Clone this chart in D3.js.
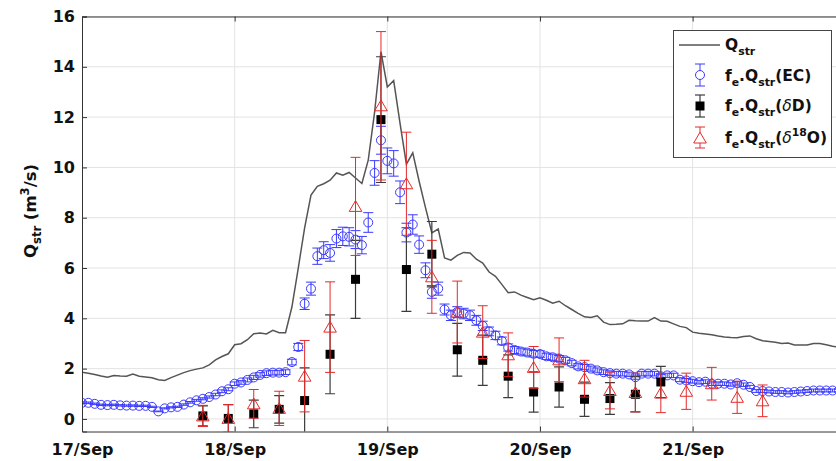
<!doctype html>
<html>
<head>
<script src="https://cdnjs.cloudflare.com/ajax/libs/d3/7.8.5/d3.min.js"></script>
<style>
    body { margin: 0; background: #fff; }
    svg { display: block; font-family: "DejaVu Sans", sans-serif; font-weight: bold; }
</style>
</head>
<body>
<svg width="836" height="461"></svg>
<script>
// day ticks (hours from 17/Sep 00:00)
var dayHours = [0, 24, 48, 72, 96];
var dayLabels = ["17/Sep", "18/Sep", "19/Sep", "20/Sep", "21/Sep"];
var yTicks = [0, 2, 4, 6, 8, 10, 12, 14, 16];

// stream discharge, hourly from 17/Sep 00:00
var qstr = [1.86, 1.82, 1.77, 1.71, 1.66, 1.73, 1.71, 1.70, 1.78, 1.70,
    1.67, 1.64, 1.56, 1.53, 1.64, 1.74, 1.84, 1.92, 1.98, 2.03,
    2.15, 2.35, 2.48, 2.59, 2.95, 2.99, 3.15, 3.39, 3.42, 3.38,
    3.52, 3.43, 3.43, 4.45, 6.0, 7.6, 8.9, 9.25, 9.35, 9.49,
    9.78, 9.69, 9.80, 9.58, 9.36, 10.29, 12.2, 14.6, 13.2, 13.45,
    11.75, 10.13, 10.58, 9.45, 8.4, 7.4, 7.55, 6.4, 6.31, 6.5,
    6.62, 6.6, 6.35, 6.2, 5.84, 5.67, 5.35, 5.02, 5.05, 4.92,
    4.83, 4.74, 4.82, 4.72, 4.60, 4.68, 4.5, 4.35, 4.2, 4.06,
    4.03, 4.10, 3.85, 3.75, 3.76, 3.78, 3.92, 3.90, 3.89, 3.89,
    4.03, 3.89, 3.88, 3.78, 3.68, 3.63, 3.45, 3.41, 3.38, 3.35,
    3.30, 3.26, 3.24, 3.23, 3.28, 3.30, 3.19, 3.11, 3.08, 3.05,
    3.0, 3.02, 2.94, 2.94, 2.94, 3.0, 3.0, 2.95, 2.89, 2.86, 2.85];

// fe.Qstr from EC, hourly
var ecFlow = [0.64, 0.64, 0.60, 0.56, 0.55, 0.56, 0.54, 0.53, 0.53, 0.52,
    0.52, 0.48, 0.30, 0.42, 0.46, 0.48, 0.57, 0.66, 0.74, 0.80,
    0.87, 0.97, 1.10, 1.18, 1.40, 1.45, 1.55, 1.65, 1.75, 1.82,
    1.84, 1.84, 1.86, 2.26, 2.86, 4.58, 5.18, 6.47, 6.71, 6.60,
    7.17, 7.26, 7.24, 7.13, 6.91, 7.81, 9.78, 11.08, 10.26, 10.16,
    9.01, 7.41, 7.73, 6.93, 5.91, 5.05, 5.18, 4.35, 4.12, 4.25,
    4.19, 4.12, 3.92, 3.70, 3.48, 3.32, 3.10, 2.84, 2.74, 2.68,
    2.64, 2.59, 2.58, 2.49, 2.45, 2.40, 2.33, 2.22, 2.09, 2.06,
    2.00, 1.93, 1.86, 1.82, 1.80, 1.80, 1.77, 1.66, 1.80, 1.80,
    1.80, 1.69, 1.73, 1.73, 1.56, 1.53, 1.50, 1.46, 1.48, 1.40,
    1.40, 1.40, 1.37, 1.42, 1.36, 1.27, 1.11, 1.11, 1.09, 1.07,
    1.07, 1.05, 1.07, 1.09, 1.11, 1.13, 1.13, 1.13, 1.13, 1.13];
var ecRelErr = 0.05;

// isotope samples (every 4 h)
var dDHours = [19, 23, 27, 31, 35, 39, 43, 47, 51, 55, 59, 63, 67, 71, 75, 79, 83, 87, 91];
var dDFlow = [0.12, 0.02, 0.2, 0.38, 0.73, 2.57, 5.55, 11.9, 5.94, 6.55, 2.75, 2.33, 1.7, 1.07, 1.27, 0.78, 0.81, 0.98, 1.47];
var dDErr = [0.4, 0.55, 0.55, 0.55, 1.3, 1.57, 1.55, 2.5, 1.66, 1.3, 1.05, 1.0, 0.85, 0.8, 0.8, 0.68, 0.63, 0.7, 0.62];

var d18OHours = [19, 23, 27, 31, 35, 39, 43, 47, 51, 55, 59, 63, 67, 71, 75, 79, 83, 87, 91, 95, 99, 103, 107];
var d18OFlow = [0.12, 0.02, 0.6, 0.42, 1.7, 3.65, 8.45, 12.45, 9.35, 5.65, 4.25, 3.45, 2.55, 2.05, 2.35, 1.6, 1.13, 1.05, 1.03, 1.1, 1.4, 0.86, 0.72];
var d18OErr = [0.42, 0.55, 0.57, 0.68, 1.42, 1.8, 1.95, 2.95, 2.05, 1.45, 1.23, 1.05, 0.87, 0.83, 0.87, 0.73, 0.73, 0.77, 0.78, 0.72, 0.65, 0.64, 0.63];

var blue = "#3a3aff", red = "#e52a2a", darkBar = "#3c3c3c";

var svg = d3.select("svg");
var pLeft = 82, pRight = 845.3, pTop = 16.5, pBottom = 431.5;

var x = d3.scaleLinear().domain([0, 120]).range([pLeft, pRight]);
var y = d3.scaleLinear().domain([-0.5, 16]).range([pBottom, pTop]);

svg.append("defs").append("clipPath").attr("id", "plotclip")
    .append("rect").attr("x", pLeft).attr("y", pTop).attr("width", pRight - pLeft).attr("height", pBottom - pTop);

// grid
var grid = svg.append("g");
grid.selectAll(".gy").data(yTicks).enter().append("line")
    .attr("x1", pLeft).attr("x2", pRight)
    .attr("y1", function (d) { return y(d); }).attr("y2", function (d) { return y(d); })
    .attr("stroke", "#e3e3e3").attr("stroke-width", 1);
grid.selectAll(".gx").data(dayHours.slice(1)).enter().append("line")
    .attr("x1", function (d) { return x(d); }).attr("x2", function (d) { return x(d); })
    .attr("y1", pTop).attr("y2", pBottom)
    .attr("stroke", "#e3e3e3").attr("stroke-width", 1);

var plot = svg.append("g").attr("clip-path", "url(#plotclip)");

// Qstr line
plot.append("path")
    .datum(qstr)
    .attr("fill", "none")
    .attr("stroke", "#555")
    .attr("stroke-width", 1.5)
    .attr("d", d3.line().x(function (d, i) { return x(i); }).y(function (d) { return y(d); }));

function errorBars(g, pts, color, width) {
    var cap = 5;
    pts.forEach(function (p) {
        var cx = x(p.h), y1 = y(p.v - p.e), y2 = y(p.v + p.e);
        g.append("line").attr("x1", cx).attr("x2", cx).attr("y1", y1).attr("y2", y2)
            .attr("stroke", color).attr("stroke-width", width);
        [y1, y2].forEach(function (yy) {
            g.append("line").attr("x1", cx - cap).attr("x2", cx + cap).attr("y1", yy).attr("y2", yy)
                .attr("stroke", color).attr("stroke-width", width);
        });
    });
}

// EC
var ecPts = ecFlow.map(function (v, i) { return { h: i, v: v, e: v * ecRelErr }; });
var gEC = plot.append("g");
errorBars(gEC, ecPts, blue, 1);
gEC.selectAll("circle").data(ecPts).enter().append("circle")
    .attr("cx", function (d) { return x(d.h); })
    .attr("cy", function (d) { return y(d.v); })
    .attr("r", 4.5)
    .attr("fill", "none").attr("stroke", blue).attr("stroke-width", 1);

// dD
var dDPts = dDFlow.map(function (v, i) { return { h: dDHours[i], v: v, e: dDErr[i] }; });
var gD = plot.append("g");
errorBars(gD, dDPts, darkBar, 1.2);
gD.selectAll("rect").data(dDPts).enter().append("rect")
    .attr("x", function (d) { return x(d.h) - 4.5; })
    .attr("y", function (d) { return y(d.v) - 4.5; })
    .attr("width", 9).attr("height", 9)
    .attr("fill", "#000");

// d18O
var triPath = "M0,-5.8L6.3,5L-6.3,5Z";
var oPts = d18OFlow.map(function (v, i) { return { h: d18OHours[i], v: v, e: d18OErr[i] }; });
var gO = plot.append("g");
errorBars(gO, oPts, red, 1);
gO.selectAll("path").data(oPts).enter().append("path")
    .attr("d", triPath)
    .attr("transform", function (d) { return "translate(" + x(d.h) + "," + y(d.v) + ")"; })
    .attr("fill", "none").attr("stroke", red).attr("stroke-width", 1);

// axes
var axisColor = "#333";
var yAxis = svg.append("g").attr("transform", "translate(" + pLeft + ",0)")
    .call(d3.axisLeft(y).tickValues(yTicks).tickSize(-5).tickPadding(7));
var xAxis = svg.append("g").attr("transform", "translate(0," + pBottom + ")")
    .call(d3.axisBottom(x).tickValues(dayHours).tickSize(-5).tickPadding(12)
        .tickFormat(function (d, i) { return dayLabels[i]; }));
var xTop = svg.append("g").attr("transform", "translate(0," + pTop + ")")
    .call(d3.axisTop(x).tickValues(dayHours).tickSize(-5).tickFormat(""));
[yAxis, xAxis, xTop].forEach(function (a) {
    a.select(".domain").attr("stroke", axisColor).attr("stroke-width", 1);
    a.selectAll(".tick line").attr("stroke", axisColor);
    a.selectAll("text").attr("font-family", "DejaVu Sans").attr("font-weight", "bold")
        .attr("font-size", 16).attr("fill", "#111");
});

// rich text helper: parts [{t, s:'sub'|'sup', it}]
function rich(g, px, py, size, parts, rotate) {
    var t = g.append("text").attr("x", px).attr("y", py).attr("font-size", size).attr("fill", "#111");
    if (rotate) t.attr("transform", "rotate(-90," + px + "," + py + ")");
    var cur = 0;
    parts.forEach(function (p) {
        var off = p.s === "sub" ? size * 0.3 : (p.s === "sup" ? -size * 0.42 : 0);
        var ts = t.append("tspan").attr("dy", off - cur).text(p.t);
        if (p.s) ts.attr("font-size", size * 0.7);
        if (p.it) ts.attr("font-style", "italic").attr("font-weight", "normal");
        cur = off;
    });
    return t;
}

// y label
rich(svg, 36, 258, 16.5, [
    { t: "Q" }, { t: "str", s: "sub" }, { t: " (m" }, { t: "3", s: "sup" }, { t: "/s)" }
], true);

// legend
var lg = svg.append("g");
lg.append("rect").attr("x", 673.5).attr("y", 30.5).attr("width", 158).attr("height", 127)
    .attr("fill", "#fff").attr("stroke", "#444").attr("stroke-width", 1);
lg.append("line").attr("x1", 679).attr("x2", 720).attr("y1", 45).attr("y2", 45)
    .attr("stroke", "#555").attr("stroke-width", 1.5);
var lx = 700;
function legBar(cy, half, color, w) {
    lg.append("line").attr("x1", lx).attr("x2", lx).attr("y1", cy - half).attr("y2", cy + half)
        .attr("stroke", color).attr("stroke-width", w);
    [cy - half, cy + half].forEach(function (yy) {
        lg.append("line").attr("x1", lx - 5).attr("x2", lx + 5).attr("y1", yy).attr("y2", yy)
            .attr("stroke", color).attr("stroke-width", w);
    });
}
legBar(75, 11, blue, 1);
lg.append("circle").attr("cx", lx).attr("cy", 75).attr("r", 4.5).attr("fill", "#fff").attr("stroke", blue);
legBar(106, 11, darkBar, 1.2);
lg.append("rect").attr("x", lx - 4.5).attr("y", 101.5).attr("width", 9).attr("height", 9).attr("fill", "#000");
legBar(137.5, 10.5, red, 1);
lg.append("path").attr("d", triPath).attr("transform", "translate(" + lx + ",138)")
    .attr("fill", "#fff").attr("stroke", red);

var fe = [{ t: "f" }, { t: "e", s: "sub" }, { t: ".Q" }, { t: "str", s: "sub" }];
rich(lg, 725, 50, 15.5, [{ t: "Q" }, { t: "str", s: "sub" }]);
rich(lg, 725, 81, 15.5, fe.concat([{ t: "(EC)" }]));
rich(lg, 725, 111, 15.5, fe.concat([{ t: "(" }, { t: "δ", it: true }, { t: "D)" }]));
rich(lg, 725, 143, 15.5, fe.concat([{ t: "(" }, { t: "δ", it: true }, { t: "18", s: "sup" }, { t: "O)" }]));
</script>
</body>
</html>
